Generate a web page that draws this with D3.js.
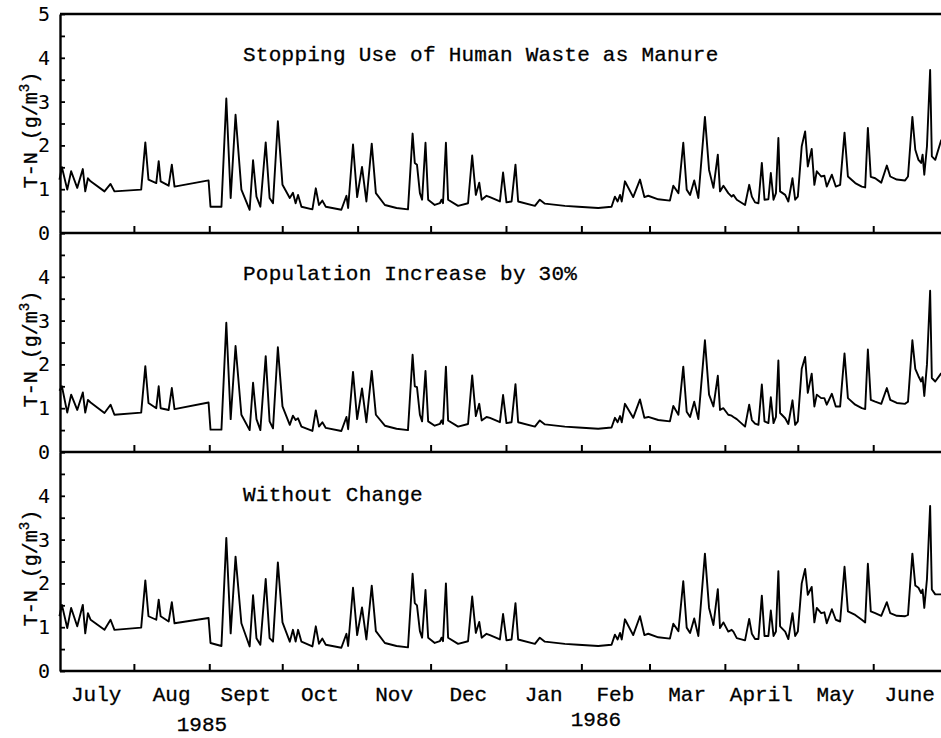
<!DOCTYPE html>
<html><head><meta charset="utf-8">
<script src="https://cdn.jsdelivr.net/npm/d3@7"></script>
<style>
html,body{margin:0;padding:0;background:#fff;}
svg{display:block;}
</style>
</head><body>
<svg id="chart" width="941" height="738"></svg>
<script>
// ---- data ----
// days since 1 July 1985
const days = [0.4,1.4,3.6,5.2,7.7,10.0,11.0,12.1,13.2,18.9,21.4,23.0,34.0,35.7,37.0,40.2,41.2,42.0,45.3,46.6,47.7,61.7,62.5,67.0,69.0,70.8,72.8,75.2,78.6,80.0,
81.4,83.0,85.2,86.8,88.2,90.2,92.1,95.1,96.4,97.5,98.5,99.9,104.4,105.8,107.1,108.5,109.9,116.3,118.4,119.1,121.1,122.8,124.8,126.6,128.8,130.5,134.2,139.0,143.7,145.6,
146.5,147.4,148.6,149.5,150.9,152.0,154.7,156.8,157.5,158.1,159.3,160.2,164.3,168.4,170.1,171.6,173.0,174.0,176.0,177.4,181.5,182.8,184.2,186.3,187.9,189.0,195.9,197.9,200.0,208.2,
213.7,221.9,227.4,228.8,229.9,230.9,231.6,232.9,236.3,239.1,240.9,242.5,246.6,251.4,252.8,254.9,256.9,258.3,259.7,261.4,263.1,265.8,267.5,269.3,271.1,272.0,273.4,275.4,276.8,277.5,
278.9,282.3,284.0,285.1,286.4,287.8,289.2,290.3,291.9,292.9,294.0,295.0,296.0,296.7,298.8,300.1,301.8,302.9,304.0,305.6,307.0,308.1,309.7,310.8,311.8,313.6,314.9,315.9,318.0,319.6,
321.4,323.2,324.6,327.6,330.3,331.7,332.8,334.0,335.8,338.3,340.6,342.0,344.7,348.1,349.3,351.1,352.3,353.6,354.7,355.3,356.0,357.1,358.4,359.1,360.5,363.0];

const tnStopManure = [1.22,1.50,0.99,1.41,1.03,1.46,0.95,1.25,1.18,0.95,1.12,0.95,0.99,2.07,1.22,1.14,1.64,1.18,1.08,1.56,1.06,1.20,0.60,0.60,3.07,0.80,2.70,0.99,0.53,1.66,
0.83,0.60,2.07,0.80,0.68,2.55,1.10,0.80,0.92,0.68,0.87,0.60,0.54,1.02,0.64,0.74,0.60,0.53,0.85,0.57,2.02,0.82,1.51,0.72,2.04,0.91,0.64,0.57,0.54,2.27,
1.60,1.56,0.91,0.76,2.06,0.76,0.64,0.68,0.76,0.68,2.06,0.76,0.62,0.68,1.77,0.87,1.15,0.76,0.85,0.82,0.72,1.38,0.70,0.72,1.56,0.72,0.62,0.76,0.67,0.62,
0.60,0.57,0.60,0.83,0.72,0.87,0.72,1.18,0.82,1.22,0.82,0.85,0.77,0.74,1.08,0.91,2.06,0.99,0.87,1.20,0.80,2.65,1.44,1.03,1.79,0.95,1.08,0.91,0.83,0.87,
0.76,0.64,1.10,0.83,0.70,0.68,1.60,0.76,0.77,1.37,0.76,0.91,2.17,0.95,0.87,0.72,1.25,0.76,0.83,1.98,2.32,1.52,1.92,1.10,1.41,1.29,1.31,1.06,1.33,1.06,
1.10,2.29,1.29,1.14,1.06,1.04,2.40,1.28,1.25,1.15,1.54,1.29,1.22,1.20,1.29,2.65,1.90,1.67,1.60,1.79,1.33,1.98,3.72,1.75,1.67,2.13];

const tnPopIncrease = [1.40,1.50,0.90,1.31,0.96,1.36,0.90,1.19,1.13,0.89,1.08,0.85,0.90,1.96,1.12,1.00,1.50,1.00,0.96,1.46,0.98,1.13,0.51,0.51,2.95,0.75,2.42,0.85,0.50,1.58,
0.75,0.50,2.19,0.70,0.54,2.39,1.04,0.62,0.83,0.73,0.77,0.58,0.48,0.95,0.58,0.68,0.55,0.48,0.80,0.52,1.83,0.75,1.45,0.68,1.85,0.85,0.60,0.53,0.50,2.22,
1.50,1.48,0.85,0.70,1.85,0.70,0.60,0.64,0.72,0.64,1.95,0.72,0.58,0.64,1.75,0.82,1.10,0.72,0.80,0.78,0.68,1.30,0.66,0.68,1.55,0.68,0.58,0.72,0.63,0.58,
0.56,0.53,0.56,0.78,0.68,0.82,0.68,1.10,0.78,1.20,0.78,0.80,0.73,0.70,1.05,0.85,1.95,0.92,0.80,1.15,0.75,2.55,1.31,1.04,1.74,0.96,1.00,0.85,0.83,0.80,
0.75,0.58,1.08,0.73,0.65,0.62,1.54,0.70,0.66,1.25,0.66,0.80,2.09,0.89,0.77,0.64,1.18,0.62,0.70,1.90,2.17,1.35,1.79,1.04,1.31,1.23,1.23,1.08,1.33,1.04,
1.04,2.25,1.23,1.08,1.00,0.98,2.34,1.19,1.15,1.10,1.46,1.19,1.12,1.10,1.15,2.55,1.90,1.73,1.61,1.71,1.28,2.00,3.68,1.69,1.61,1.80];

const tnNoChange = [1.25,1.51,0.98,1.44,1.02,1.51,0.86,1.32,1.17,0.94,1.17,0.94,0.99,2.07,1.25,1.17,1.63,1.25,1.13,1.57,1.09,1.21,0.64,0.57,3.04,0.86,2.61,1.09,0.56,1.73,
0.75,0.60,2.10,0.75,0.67,2.48,1.11,0.67,0.94,0.67,0.94,0.67,0.56,1.02,0.62,0.74,0.60,0.53,0.85,0.57,1.90,0.82,1.45,0.72,1.95,0.91,0.64,0.57,0.54,2.22,
1.55,1.50,0.91,0.76,1.85,0.76,0.64,0.68,0.76,0.68,2.00,0.76,0.62,0.68,1.70,0.87,1.12,0.76,0.85,0.82,0.72,1.30,0.70,0.72,1.55,0.72,0.62,0.76,0.67,0.62,
0.60,0.57,0.60,0.83,0.72,0.87,0.72,1.18,0.82,1.25,0.82,0.85,0.77,0.74,1.08,0.91,2.05,0.99,0.87,1.20,0.80,2.68,1.44,1.05,1.87,0.98,1.11,0.90,0.94,0.90,
0.75,0.70,1.19,0.85,0.73,0.73,1.72,0.80,0.80,1.38,0.80,0.90,2.28,1.02,0.90,0.73,1.32,0.80,0.90,2.00,2.33,1.74,1.92,1.11,1.44,1.32,1.34,1.09,1.41,1.17,
1.13,2.38,1.36,1.28,1.17,1.11,2.45,1.36,1.32,1.26,1.57,1.32,1.26,1.25,1.28,2.68,1.95,1.90,1.78,1.86,1.44,2.10,3.77,1.86,1.75,1.75];

const panelTitles = ["Stopping Use of Human Waste as Manure", "Population Increase by 30%", "Without Change"];
const monthLabels = ["July","Aug","Sept","Oct","Nov","Dec","Jan","Feb","Mar","April","May","June"];
const yearLabels = ["1985","1986"];
const yTickValues = [0,0.5,1,1.5,2,2.5,3,3.5,4,4.5,5];

// ---- layout ----
const svg = d3.select("#chart");
const W = 941, left = 60, top0 = 14, panelH = 219;
const start = Date.UTC(1985,6,1), end = Date.UTC(1986,6,1);
const x = d3.scaleUtc().domain([new Date(start), new Date(end)]).range([58.5, 58.5 + 365*2.432]);
const toDate = d => new Date(start + d*864e5);
const y = d3.scaleLinear().domain([0,5]).range([panelH, 0]);

const series = [tnStopManure, tnPopIncrease, tnNoChange];
const monthStarts = d3.utcMonth.range(new Date(start), new Date(end));
const monthTicks = monthStarts.slice(1);

const monoFont = "'Liberation Mono', 'DejaVu Sans Mono', monospace";
const textStroke = 0.3;

svg.append("clipPath").attr("id","clip").append("rect").attr("x",0).attr("y",0).attr("width",W).attr("height",738);
const root = svg.append("g").attr("clip-path","url(#clip)");

// top border
root.append("line").attr("x1",left).attr("x2",W).attr("y1",top0).attr("y2",top0)
  .attr("stroke","#000").attr("stroke-width",2.4);

series.forEach((vals, i) => {
  const g = root.append("g").attr("transform", `translate(0,${top0 + i*panelH})`);
  const data = days.map((d, k) => ({date: toDate(d), v: vals[k]}));

  // data line
  g.append("path").datum(data)
    .attr("fill","none").attr("stroke","#000").attr("stroke-width",1.9)
    .attr("stroke-linejoin","round")
    .attr("d", d3.line().x(p => x(p.date)).y(p => y(p.v)));

  // bottom axis (month boundaries, ticks pointing up)
  const xa = g.append("g").attr("transform", `translate(0,${panelH})`)
    .call(d3.axisBottom(x).tickValues(monthTicks).tickSizeInner(-7).tickSizeOuter(0).tickFormat(""));
  xa.select(".domain").attr("stroke-width",2.4).attr("d", `M${left},0H${W+10}`);
  xa.selectAll(".tick line").attr("stroke-width",2);

  // left axis, ticks pointing inward
  const ya = g.append("g").attr("transform", `translate(${left},0)`)
    .call(d3.axisLeft(y).tickValues(yTickValues).tickSizeInner(-5).tickSizeOuter(0).tickPadding(10)
      .tickFormat(v => (Number.isInteger(v) && (i === 0 || v < 5)) ? d3.format("d")(v) : ""));
  ya.select(".domain").attr("stroke-width",2.4);
  ya.selectAll(".tick line").attr("stroke-width",1.8);
  ya.selectAll(".tick text").attr("font-family","'DejaVu Sans Mono', monospace").attr("font-size",20)
    .attr("fill","#000");

  // panel title
  g.append("text").attr("x", 243).attr("y", i === 2 ? 49 : 47)
    .attr("font-family", monoFont).attr("font-size", 21).attr("letter-spacing", 0.25).attr("fill","#000")
    .attr("stroke","#000").attr("stroke-width",textStroke)
    .text(panelTitles[i]);

  // y axis title (rotated): "T-N" then a gap, then "(g/m³)"
  const t = g.append("text")
    .attr("transform", `translate(37,${y(2.35)}) rotate(-90)`)
    .attr("text-anchor","middle")
    .attr("font-family", monoFont).attr("font-size", 20).attr("fill","#000")
    .attr("stroke","#000").attr("stroke-width",textStroke);
  t.append("tspan").text("T-N");
  t.append("tspan").attr("dx", 12).text("(g/m");
  t.append("tspan").attr("font-size",14).attr("dy",-8).text("3");
  t.append("tspan").attr("dy",8).text(")");
});

// month labels (mid-month)
const bottomY = top0 + 3*panelH;
monthStarts.forEach((m, k) => {
  const next = k + 1 < monthStarts.length ? monthStarts[k+1] : new Date(end);
  const mid = new Date((m.getTime() + next.getTime())/2);
  root.append("text").attr("x", x(mid)).attr("y", bottomY + 30)
    .attr("text-anchor","middle").attr("font-family", monoFont).attr("font-size",21)
    .attr("fill","#000").attr("stroke","#000").attr("stroke-width",textStroke)
    .text(monthLabels[k]);
});

// year labels
const yearPos = [new Date(Date.UTC(1985,7,29)), new Date(Date.UTC(1986,1,7))];
yearLabels.forEach((lab, k) => {
  root.append("text").attr("x", x(yearPos[k])).attr("y", k === 0 ? 731 : 726)
    .attr("text-anchor","middle").attr("font-family", monoFont).attr("font-size",21)
    .attr("fill","#000").attr("stroke","#000").attr("stroke-width",textStroke)
    .text(lab);
});
</script>
</body></html>
